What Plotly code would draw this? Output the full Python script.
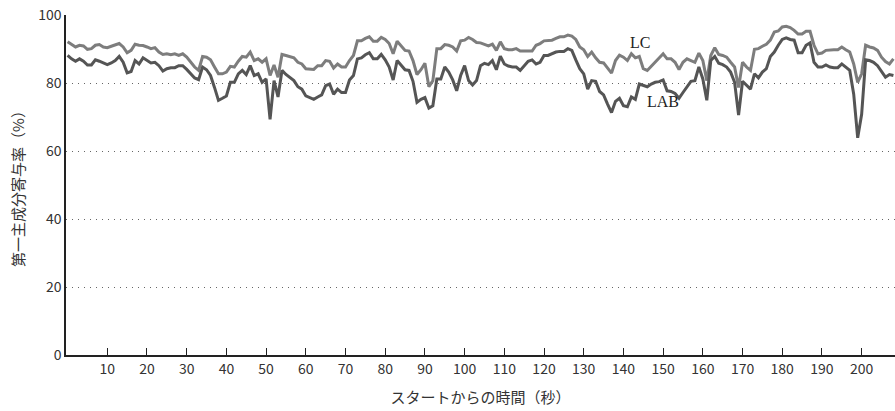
import plotly.graph_objects as go

seconds = list(range(0, 209))

lc = [
    92.1, 91.3, 90.6, 91.1, 90.9, 89.9, 90.1, 91.1, 91.3, 90.6,
    90.4, 90.8, 91.2, 91.6, 90.6, 88.9, 89.6, 91.4, 91.1, 91.0,
    90.6, 90.1, 90.4, 89.1, 88.4, 88.6, 88.3, 88.6, 88.1, 88.6,
    87.6, 86.1, 84.7, 83.7, 87.8, 87.6, 86.8, 84.7, 82.7, 82.7,
    83.2, 84.9, 84.7, 86.4, 87.8, 87.6, 89.1, 86.6, 87.1, 86.1,
    87.1, 82.2, 85.3, 81.7, 88.4, 88.1, 87.8, 87.4, 86.1, 85.6,
    84.2, 84.0, 84.0, 85.1, 85.1, 86.6, 86.4, 84.4, 85.6, 84.7,
    84.7, 86.6, 88.1, 92.4, 92.4, 93.1, 93.6, 92.3, 92.3, 93.4,
    92.8, 91.6, 88.6, 92.3, 91.1, 89.6, 89.4, 86.6, 82.5, 83.9,
    85.8, 78.9, 80.7, 90.1, 90.1, 91.3, 91.1, 90.6, 89.4, 92.4,
    92.6, 93.4, 92.8, 91.9, 91.8, 91.3, 90.9, 91.4, 89.6, 92.1,
    90.1, 89.8, 89.8, 90.1, 89.4, 89.4, 89.4, 89.4, 91.1, 91.6,
    92.4, 92.6, 92.6, 93.1, 93.6, 93.6, 94.1, 93.8, 92.8, 90.6,
    89.8, 87.8, 89.1, 87.4, 86.1, 85.9, 84.5, 82.9, 86.6, 88.2,
    87.6, 86.6, 88.6, 87.4, 87.8, 84.2, 83.7, 84.9, 86.4, 87.6,
    88.6, 87.1, 87.1, 86.1, 84.0, 86.1, 87.1, 86.6, 86.1, 88.8,
    86.6, 80.7, 88.1, 90.4, 88.4, 88.1, 87.6, 86.1, 84.7, 78.7,
    86.1, 84.7, 83.7, 89.9, 90.1, 90.8, 91.4, 92.6, 95.0, 95.3,
    96.5, 96.7, 96.3, 95.5, 94.4, 94.4, 95.2, 95.2, 91.1, 88.6,
    88.8, 89.6, 89.8, 89.8, 89.8, 90.6, 89.8, 89.1, 85.6, 80.2,
    82.7, 91.1, 90.6, 90.3, 89.6, 87.6, 86.3, 85.6, 87.1,
]

lab = [
    88.1, 87.1, 86.4, 87.1, 86.4, 85.3, 85.3, 86.8, 86.4, 85.9,
    85.4, 85.9, 86.6, 87.8, 86.1, 83.0, 83.4, 86.6, 85.6, 87.4,
    86.6, 85.9, 86.1, 85.1, 83.5, 84.2, 84.5, 84.5, 85.1, 85.1,
    84.0, 82.7, 81.5, 81.0, 84.7, 83.9, 82.2, 78.7, 74.9, 75.5,
    76.2, 80.2, 80.2, 82.7, 83.7, 82.5, 85.1, 82.2, 82.7, 80.2,
    81.2, 69.3, 80.7, 75.9, 83.7, 82.5, 81.5, 80.7, 78.9, 78.2,
    76.2, 75.7, 75.2, 75.9, 76.5, 79.2, 79.7, 76.7, 78.2, 77.2,
    77.2, 80.9, 82.2, 87.1, 87.4, 88.3, 88.9, 87.1, 87.1, 88.4,
    86.8, 84.7, 80.9, 86.6, 85.1, 83.9, 83.7, 80.5, 74.3, 75.2,
    75.7, 72.6, 73.3, 81.2, 81.2, 84.7, 83.2, 80.9, 77.7, 82.2,
    85.1, 80.7, 79.4, 80.7, 85.1, 85.8, 85.4, 86.6, 83.9, 87.9,
    85.6, 85.0, 84.7, 84.7, 83.7, 85.1, 86.4, 86.8, 85.6, 86.1,
    88.1, 88.1, 88.6, 89.1, 89.3, 89.3, 90.1, 89.6, 86.8, 84.2,
    82.7, 78.2, 80.7, 80.5, 77.5, 76.5, 73.8, 71.3, 74.6, 75.5,
    73.3, 73.0, 75.9, 75.2, 79.7, 79.2, 78.9, 79.7, 80.2, 80.4,
    80.9, 77.7, 77.5, 76.9, 75.5, 77.2, 78.9, 80.5, 80.7, 84.7,
    81.2, 74.9, 86.6, 87.8, 85.8, 85.4, 84.7, 83.2, 80.2, 70.6,
    80.5, 79.2, 78.2, 82.7, 81.5, 83.2, 84.2, 87.8, 89.1, 91.1,
    92.8, 93.3, 92.8, 92.6, 88.9, 88.9, 91.1, 91.8, 86.1, 84.7,
    84.7, 85.3, 84.7, 84.5, 84.5, 85.6, 84.7, 83.7, 76.7, 63.9,
    70.8, 86.8, 86.6, 86.1, 85.1, 83.2, 81.7, 82.5, 82.2,
]

x_ticks = list(range(10, 201, 10))
y_ticks = [0, 20, 40, 60, 80, 100]

fig = go.Figure()
fig.add_trace(go.Scatter(x=seconds, y=lc, mode="lines", name="LC",
                         line=dict(color="#7d7d7d", width=3)))
fig.add_trace(go.Scatter(x=seconds, y=lab, mode="lines", name="LAB",
                         line=dict(color="#555555", width=3)))

fig.add_annotation(x=144.2, y=91.9, text="LC", showarrow=False,
                   font=dict(family="Liberation Serif", size=16, color="#222"))
fig.add_annotation(x=150.0, y=74.6, text="LAB", showarrow=False,
                   font=dict(family="Liberation Serif", size=16, color="#222"))

fig.update_layout(
    width=895, height=411,
    margin=dict(l=66, r=0, t=15, b=56),
    plot_bgcolor="white", paper_bgcolor="white",
    showlegend=False,
    font=dict(family="Noto Sans CJK JP", size=14, color="#222"),
)
fig.update_xaxes(
    range=[-0.4, 208.4], tickvals=x_ticks, ticktext=[str(v) for v in x_ticks],
    ticks="inside", ticklen=7, tickcolor="#222", tickwidth=1,
    showline=True, linecolor="#222", linewidth=1.5, showgrid=False, zeroline=False,
    tickfont=dict(size=14, color="#333"),
    title=dict(text="スタートからの時間（秒）", font=dict(size=15, color="#333"), standoff=16),
)
fig.update_yaxes(
    range=[0, 100], tickvals=y_ticks, ticks="",
    showline=True, linecolor="#222", linewidth=1.5, zeroline=False,
    showgrid=True, gridcolor="#666", griddash="1px,5px", gridwidth=1,
    tickfont=dict(size=14, color="#333"),
    title=dict(text="第一主成分寄与率（%）", font=dict(size=15, color="#333"), standoff=10),
)

fig.write_html("out.html", config={"displayModeBar": False},
               post_script="document.body.style.margin='0';document.body.style.overflow='hidden';")
